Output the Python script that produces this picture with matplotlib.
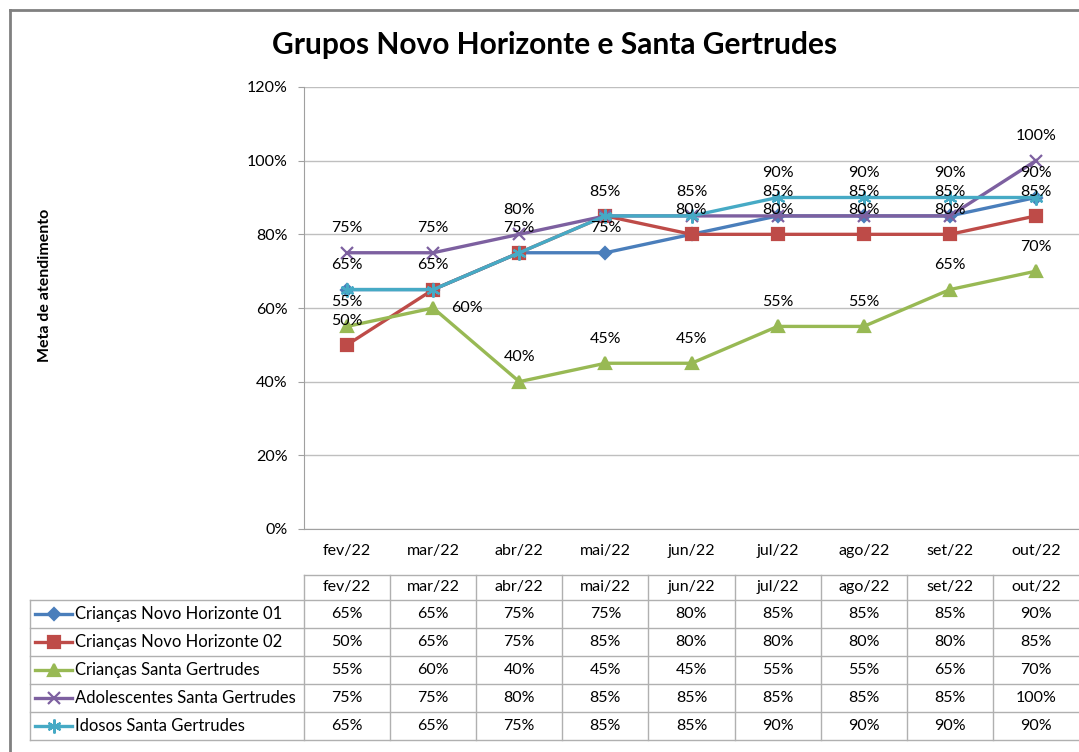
import numpy as np
import matplotlib.pyplot as plt
from matplotlib.lines import Line2D

plt.rcParams['font.family'] = ['Lato', 'DejaVu Sans']

meses = ['fev/22', 'mar/22', 'abr/22', 'mai/22', 'jun/22', 'jul/22', 'ago/22', 'set/22', 'out/22']
criancas_nh01 = [65, 65, 75, 75, 80, 85, 85, 85, 90]
criancas_nh02 = [50, 65, 75, 85, 80, 80, 80, 80, 85]
criancas_sg = [55, 60, 40, 45, 45, 55, 55, 65, 70]
adolescentes_sg = [75, 75, 80, 85, 85, 85, 85, 85, 100]
idosos_sg = [65, 65, 75, 85, 85, 90, 90, 90, 90]
nomes = ['Crianças Novo Horizonte 01', 'Crianças Novo Horizonte 02', 'Crianças Santa Gertrudes',
         'Adolescentes Santa Gertrudes', 'Idosos Santa Gertrudes']

series = [criancas_nh01, criancas_nh02, criancas_sg, adolescentes_sg, idosos_sg]
cores = ['#4A7EBB', '#BE4B48', '#98B954', '#7D60A0', '#46AAC5']
marcadores = ['D', 's', '^', 'x', (6, 2, 0)]
tam_marc = [6, 8, 9, 9, 10]

W, H = 1079, 752
fig = plt.figure(figsize=(W / 100, H / 100), dpi=100)
grid_cor = '#BFBFBF'

# area do grafico
ax = fig.add_axes([304 / W, 1 - 529 / H, (W - 304) / W, (529 - 87) / H])
x = np.arange(len(meses))
ja_rotulado = set()
for i, s in enumerate(series):
    ax.plot(x, s, color=cores[i], lw=2.4, marker=marcadores[i], ms=tam_marc[i],
            mew=1.6, mec=cores[i], mfc=cores[i], zorder=3 + i, clip_on=False)
    for j, v in enumerate(s):
        off = (24, 0) if (i == 2 and j == 1) else (0, 17.5)
        if (j, v, off) in ja_rotulado:
            continue
        ja_rotulado.add((j, v, off))
        ax.annotate(f'{v}%', (j, v), xytext=off, textcoords='offset points',
                    ha='center', va='center', fontsize=11.5, color='black', zorder=10)

ax.set_xlim(-0.5, 8.5)
ax.set_ylim(0, 120)
ax.set_yticks(range(0, 121, 20))
ax.set_yticklabels([f'{v}%' for v in range(0, 121, 20)])
ax.set_xticks(x)
ax.set_xticklabels(meses)
ax.tick_params(axis='y', length=4, color='#A0A0A0', pad=8, labelsize=11.5)
ax.tick_params(axis='x', length=0, pad=11, labelsize=11.5)
ax.yaxis.grid(True, color=grid_cor, lw=1)
ax.set_axisbelow(True)
for sp in ['top', 'right']:
    ax.spines[sp].set_visible(False)
for sp in ['left', 'bottom']:
    ax.spines[sp].set_color('#A0A0A0')

fig.text(555 / W, 1 - 45 / H, 'Grupos Novo Horizonte e Santa Gertrudes',
         ha='center', va='center', fontsize=21.5, fontweight='bold')
fig.text(45 / W, 1 - 285 / H, 'Meta de atendimento', rotation=90,
         ha='center', va='center', fontsize=11.5, fontweight='bold')

# tabela de dados
tax = fig.add_axes([30 / W, 1 - 740 / H, (W - 30) / W, (740 - 575) / H])
upx = 9 / (W - 304)
x0 = -0.5 - (304 - 30) * upx
tax.set_xlim(x0, 8.5)
h0 = 25 / 28
tax.set_ylim(h0 + 5, 0)
tax.axis('off')

lc = '#B0B0B0'
# cabecalho
tax.plot([-0.5, 8.5], [0, 0], color=lc, lw=1, clip_on=False)
for k in range(len(meses)):
    tax.plot([k - 0.5, k - 0.5], [0, h0 + 5], color=lc, lw=1, clip_on=False)
    tax.text(k, h0 / 2, meses[k], ha='center', va='center', fontsize=11.5)
tax.plot([x0, x0], [h0, h0 + 5], color=lc, lw=1, clip_on=False)
for r in range(6):
    tax.plot([x0, 8.5], [h0 + r, h0 + r], color=lc, lw=1, clip_on=False)

for i, s in enumerate(series):
    yc = h0 + i + 0.5
    tax.add_line(Line2D([x0 + 5 * upx, x0 + 42 * upx], [yc, yc], color=cores[i], lw=2.4,
                        clip_on=False))
    tax.add_line(Line2D([x0 + 23.5 * upx], [yc], color=cores[i], marker=marcadores[i],
                        ms=tam_marc[i], mew=1.6, mfc=cores[i], mec=cores[i], clip_on=False))
    tax.text(x0 + 45 * upx, yc, nomes[i], ha='left', va='center', fontsize=12)
    for j, v in enumerate(s):
        tax.text(j, yc, f'{v}%', ha='center', va='center', fontsize=11.5)

# moldura
fig.add_artist(Line2D([10 / W, 10 / W], [0, 1 - 10 / H], color='#808080', lw=2))
fig.add_artist(Line2D([10 / W, 1], [1 - 10 / H, 1 - 10 / H], color='#808080', lw=2))

fig.savefig('out.png', dpi=100)
